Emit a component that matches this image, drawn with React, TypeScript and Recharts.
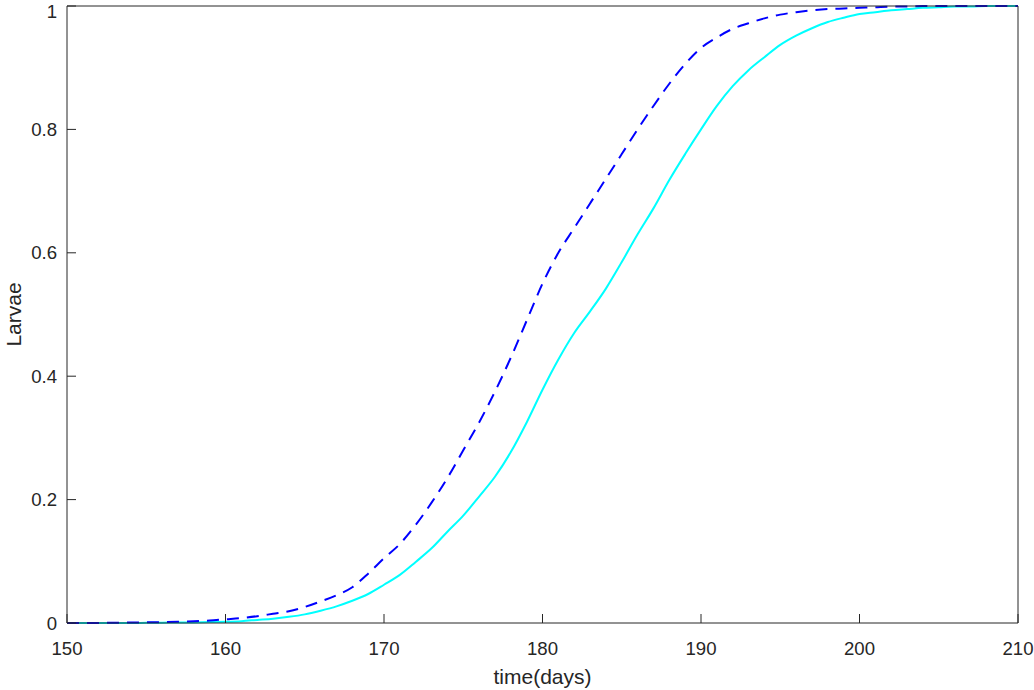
import React from 'react';
import { LineChart, Line, XAxis, YAxis } from 'recharts';

const days = [
    150, 151, 152, 153, 154, 155, 156, 157, 158, 159,
    160, 161, 162, 163, 164, 165, 166, 167, 168, 169,
    170, 171, 172, 173, 174, 175, 176, 177, 178, 179,
    180, 181, 182, 183, 184, 185, 186, 187, 188, 189,
    190, 191, 192, 193, 194, 195, 196, 197, 198, 199,
    200, 201, 202, 203, 204, 205, 206, 207, 208, 209, 210
];

// dashed blue curve
const larvaeA = [
    0, 0, 0, 0.0005, 0.0008, 0.001, 0.0015, 0.002, 0.003, 0.004,
    0.006, 0.008, 0.011, 0.015, 0.019, 0.026, 0.035, 0.045, 0.058, 0.08,
    0.105, 0.128, 0.159, 0.195, 0.235, 0.28, 0.325, 0.375, 0.43, 0.49,
    0.55, 0.6, 0.64, 0.68, 0.72, 0.76, 0.8, 0.838, 0.874, 0.906,
    0.932, 0.949, 0.963, 0.972, 0.98, 0.986, 0.99, 0.993, 0.995, 0.996,
    0.997, 0.998, 0.999, 0.999, 1, 1, 1, 1, 1, 1, 1
];

// solid cyan curve
const larvaeB = [
    0, 0, 0, 0, 0, 0.0003, 0.0005, 0.0008, 0.001, 0.0015,
    0.002, 0.003, 0.005, 0.007, 0.01, 0.014, 0.02, 0.027, 0.036, 0.047,
    0.062, 0.078, 0.099, 0.121, 0.148, 0.174, 0.205, 0.237, 0.277, 0.325,
    0.378, 0.427, 0.47, 0.505, 0.542, 0.585, 0.63, 0.672, 0.718, 0.76,
    0.8, 0.838, 0.87, 0.896, 0.917, 0.937, 0.952, 0.964, 0.974, 0.981,
    0.987, 0.99, 0.993, 0.995, 0.997, 0.998, 0.999, 0.999, 1, 1, 1
];

const xTicks = [150, 160, 170, 180, 190, 200, 210];
const yTicks = [0, 0.2, 0.4, 0.6, 0.8, 1];

const data = days.map((d, i) => ({ day: d, a: larvaeA[i], b: larvaeB[i] }));

const AXIS = '#262626';
const FONT = '"Liberation Sans", Arial, Helvetica, sans-serif';
const tickStyle = { fontSize: 18.6, fill: AXIS, fontFamily: FONT };

export default function App() {
    return (
        <div style={{ position: 'absolute', left: 0, top: 0, background: '#fff' }}>
            <LineChart width={1034} height={690} data={data} margin={{ top: 1, right: 2, bottom: 0, left: 0 }}>
                <XAxis
                    xAxisId="x"
                    dataKey="day"
                    type="number"
                    domain={[150, 210]}
                    ticks={xTicks}
                    height={67}
                    stroke={AXIS}
                    tickSize={-9}
                    tickMargin={28}
                    tick={tickStyle}
                    label={{ value: 'time(days)', position: 'insideBottom', offset: 6, style: { fontSize: 21, fill: AXIS, fontFamily: FONT } }}
                />
                <XAxis
                    xAxisId="xt"
                    dataKey="day"
                    orientation="top"
                    type="number"
                    domain={[150, 210]}
                    ticks={xTicks}
                    height={5}
                    stroke={AXIS}
                    tickSize={-9}
                    tick={false}
                />
                <YAxis
                    yAxisId="y"
                    type="number"
                    domain={[0, 1]}
                    ticks={yTicks}
                    width={67}
                    stroke={AXIS}
                    tickSize={-9}
                    tickMargin={19}
                    tick={tickStyle}
                    label={{ value: 'Larvae', angle: -90, position: 'center', dx: -20, style: { fontSize: 21, fill: AXIS, fontFamily: FONT } }}
                />
                <YAxis
                    yAxisId="yr"
                    orientation="right"
                    type="number"
                    domain={[0, 1]}
                    ticks={yTicks}
                    width={14}
                    stroke={AXIS}
                    tickSize={-9}
                    tick={false}
                />
                {/* same curve on the mirrored axes, so the box axes get drawn */}
                <Line
                    xAxisId="xt"
                    yAxisId="yr"
                    type="monotone"
                    dataKey="b"
                    stroke="#00ffff"
                    strokeWidth={2}
                    dot={false}
                    isAnimationActive={false}
                />
                <Line
                    xAxisId="x"
                    yAxisId="y"
                    type="monotone"
                    dataKey="a"
                    stroke="#0000ff"
                    strokeWidth={2}
                    strokeDasharray="12 8"
                    dot={false}
                    isAnimationActive={false}
                />
            </LineChart>
        </div>
    );
}
